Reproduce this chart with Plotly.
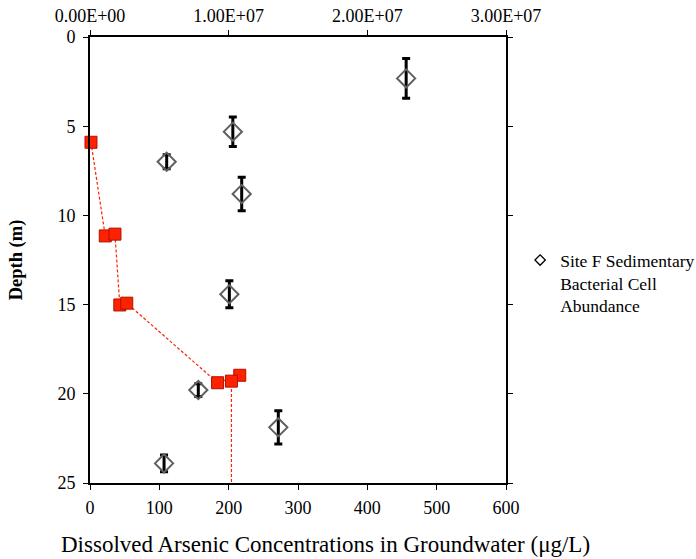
import plotly.graph_objects as go

# Dissolved arsenic (bottom axis, ug/L) vs depth (m)
arsenic_conc = [1.4, 22, 36, 43, 53, 184, 216, 204, 204]
arsenic_depth = [5.9, 11.15, 11.05, 15.02, 14.92, 19.38, 18.96, 19.29, 30]

# Sedimentary bacterial cell abundance (top axis) vs depth (m)
cell_abund = [2.28e7, 1.03e7, 0.553e7, 1.094e7, 1.005e7, 0.781e7, 1.358e7, 0.534e7]
cell_depth = [2.32, 5.31, 6.99, 8.80, 14.42, 19.79, 21.88, 23.90]
cell_err = [1.12, 0.83, 0.39, 0.94, 0.75, 0.36, 0.93, 0.47]

top_tickvals = [0, 1e7, 2e7, 3e7]
top_ticktext = ["0.00E+00", "1.00E+07", "2.00E+07", "3.00E+07"]
depth_max = 25

FONT = "Liberation Serif, Times New Roman, serif"

fig = go.Figure()

# dashed connecting line (clipped to plot area)
fig.add_trace(go.Scatter(
    x=arsenic_conc, y=arsenic_depth, mode="lines",
    line=dict(color="#FF2200", width=1.2, dash="3px,2px"),
    showlegend=False, hoverinfo="skip",
))

# square markers for the points within the depth range
vis = [i for i, d in enumerate(arsenic_depth) if d <= depth_max]
fig.add_trace(go.Scatter(
    x=[arsenic_conc[i] for i in vis], y=[arsenic_depth[i] for i in vis],
    mode="markers", cliponaxis=False,
    marker=dict(symbol="square", size=12, color="#FF2200",
                line=dict(color="#B01000", width=1)),
    showlegend=False,
))

fig.add_trace(go.Scatter(
    x=cell_abund, y=cell_depth, mode="markers",
    name="Site F Sedimentary<br>Bacterial Cell<br>Abundance",
    marker=dict(symbol="diamond-open", size=14, color="#606060",
                line=dict(color="#606060", width=2)),
    error_y=dict(type="data", array=cell_err, visible=True,
                 color="black", thickness=3, width=4),
    xaxis="x2", yaxis="y", showlegend=False, legendgroup="cells",
))

# legend entry (small black diamond as in the original key)
fig.add_trace(go.Scatter(
    x=[None], y=[None], mode="markers",
    name="Site F Sedimentary<br>Bacterial Cell<br>Abundance",
    marker=dict(symbol="diamond-open", size=8, color="black",
                line=dict(color="black", width=1.3)),
    xaxis="x2", yaxis="y", legendgroup="cells",
))

axis_common = dict(showgrid=False, zeroline=False, showline=True,
                   linecolor="black", linewidth=2, ticks="outside",
                   ticklen=5, tickcolor="black", tickwidth=1,
                   tickfont=dict(family=FONT, size=18, color="black"))

fig.update_layout(
    width=696, height=559,
    margin=dict(l=90, r=190, t=37, b=76, autoexpand=False),
    paper_bgcolor="white", plot_bgcolor="white",
    font=dict(family=FONT, color="black"),
    xaxis=dict(range=[0, 600], tickvals=[0, 100, 200, 300, 400, 500, 600],
               ticklabelstandoff=2, **axis_common),
    xaxis2=dict(range=[0, 3e7], overlaying="x", side="top",
                ticklabelstandoff=1,
                tickvals=top_tickvals, ticktext=top_ticktext, **axis_common),
    yaxis=dict(range=[depth_max, 0], tickvals=[0, 5, 10, 15, 20, 25], mirror="ticks",
               ticklabelstandoff=4,
               title=dict(text="<b>Depth (m)</b>", font=dict(family=FONT, size=18.5),
                          standoff=30),
               **axis_common),
    legend=dict(x=1.034, xanchor="left", y=0.54, yanchor="top", valign="top",
                font=dict(family=FONT, size=17.5, color="black"),
                bgcolor="rgba(0,0,0,0)", itemwidth=30),
    annotations=[dict(
        text="Dissolved Arsenic Concentrations in Groundwater (\u03bcg/L)",
        xref="paper", yref="paper", x=0.567, y=-0.139,
        xanchor="center", yanchor="middle", showarrow=False,
        font=dict(family=FONT, size=23, color="black"),
    )],
)

fig.write_html("out.html")
